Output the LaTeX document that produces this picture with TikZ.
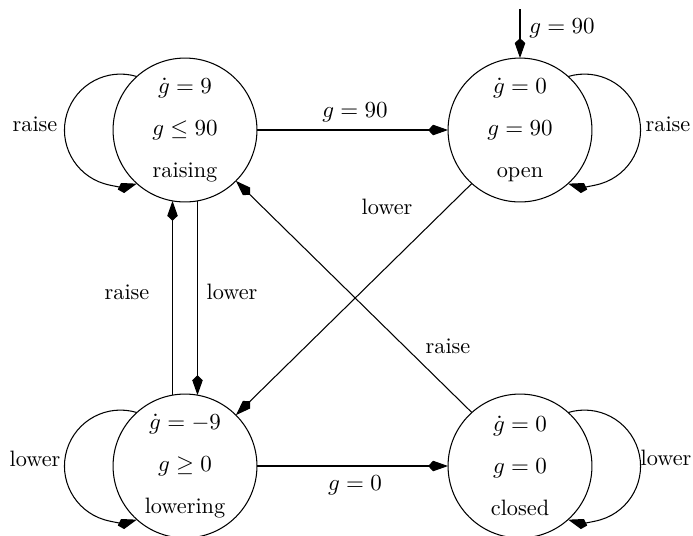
\documentclass[tikz,border=0pt]{standalone}
\usetikzlibrary{arrows.meta}
\begin{document}
\begin{tikzpicture}[x=0.476pt, y=-0.476pt, line width=0.5pt,
  font=\fontsize{10.6pt}{13pt}\selectfont,
  >={Kite[length=9.5pt,width=5pt,inset=2.4pt]},
  state/.style={draw, circle, minimum size=68.5pt, inner sep=0pt, outer sep=0pt, align=center},
  lab/.style={inner sep=0pt}]
\useasboundingbox (0,0) rectangle (693,535);
\node[state] (raising) at (185,130) {$\dot g = 9$\\[7pt]$g \le 90$\\[7pt]raising};
\node[state] (open) at (520,130) {$\dot g = 0$\\[7pt]$g = 90$\\[7pt]open};
\node[state] (lowering) at (185,466) {$\dot g = -9$\\[7pt]$g \ge 0$\\[7pt]lowering};
\node[state] (closed) at (520,466) {$\dot g = 0$\\[7pt]$g = 0$\\[7pt]closed};
% initial
\coordinate (init) at (520,9);
\draw[->] (init) -- (open.north);
\node[lab] (initlab) at (562,28) {$g = 90$};
% edges
\draw[->] (raising.east) -- (open.west);
\node[lab] (l1) at (355,112) {$g = 90$};
\draw[->] (lowering.east) -- (closed.west);
\node[lab] (l2) at (355,485) {$g = 0$};
\draw[->] (raising.280) -- (lowering.80);
\node[lab] (l3) at (232,292) {lower};
\draw[->] (lowering.100) -- (raising.260);
\node[lab] (l4) at (127,292) {raise};
\draw[->] (open.228) -- (lowering.45);
\node[lab] (l5) at (387,207) {lower};
\draw[->] (closed.132) -- (raising.-45);
\node[lab] (l6) at (448,346) {raise};
% loops
\draw[->] (raising.132) arc[start angle=73, end angle=287, radius=26.66pt];
\node[lab] (l7) at (35,124) {raise};
\draw[->] (open.48) arc[start angle=107, end angle=-107, radius=26.66pt];
\node[lab] (l8) at (668,124) {raise};
\draw[->] (lowering.132) arc[start angle=73, end angle=287, radius=26.66pt];
\node[lab] (l9) at (35,459) {lower};
\draw[->] (closed.48) arc[start angle=107, end angle=-107, radius=26.66pt];
\node[lab] (l10) at (666,458) {lower};
\end{tikzpicture}
\end{document}
